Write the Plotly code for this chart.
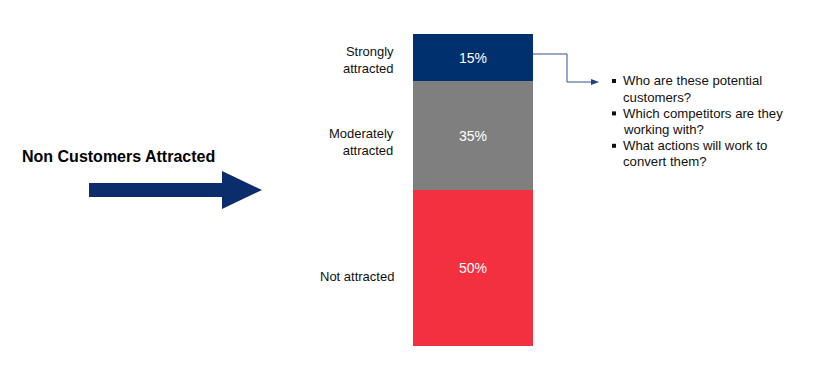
import plotly.graph_objects as go

categories = ["Not attracted", "Moderately attracted", "Strongly attracted"]
side_labels = ["Not attracted", "Moderately<br>attracted", "Strongly<br>attracted"]
values = [50, 35, 15]
colors = ["#F2303F", "#7F7F7F", "#00306E"]
label_shift = [-8, -7, -3]
bullets = [
    ["Who are these potential", "customers?"],
    ["Which competitors are they", "working with?"],
    ["What actions will work to", "convert them?"],
]
title_text = "Non Customers Attracted"

W, H = 815, 374
NAVY = "#0B2D6B"
FONT = "Liberation Sans, Arial, sans-serif"


def px(x):
    return x / W


def py(y):
    return 1 - y / H


fig = go.Figure()
for cat, v, c in zip(categories, values, colors):
    fig.add_trace(go.Bar(
        x=["bar"], y=[v], name=cat, marker=dict(color=c, line=dict(width=0)),
        text=[f"{v}%"], textposition="inside", insidetextanchor="middle",
        textfont=dict(color="white", size=14, family=FONT),
        hoverinfo="skip",
    ))

annotations = []
cum = 0
for lab, v, sh in zip(side_labels, values, label_shift):
    mid = cum + v / 2
    cum += v
    annotations.append(dict(
        x=px(396), xref="paper", y=mid, yref="y", text=lab, showarrow=False,
        xanchor="right", yanchor="middle", align="right", yshift=sh,
        font=dict(size=13, color="#111111", family=FONT),
    ))

annotations.append(dict(
    x=px(20), xref="paper", y=py(156), yref="paper", text=f"<b>{title_text}</b>",
    showarrow=False, xanchor="left", yanchor="middle",
    font=dict(size=16, color="#000000", family=FONT),
))

lines = []
for b in bullets:
    lines.extend(b)
line_y0, line_dy = 81, 16.2
for i, ln in enumerate(lines):
    annotations.append(dict(
        x=px(621), xref="paper", y=py(line_y0 + i * line_dy), yref="paper", text=ln,
        showarrow=False, xanchor="left", yanchor="middle", align="left",
        font=dict(size=13.2, color="#111111", family=FONT),
    ))

shapes = []
# big arrow
pts = [(89, 183), (222, 183), (222, 171), (262, 190), (222, 209), (222, 197), (89, 197)]
path = "M " + " L ".join(f"{px(x)},{py(y)}" for x, y in pts) + " Z"
shapes.append(dict(type="path", xref="paper", yref="paper", path=path,
                   fillcolor=NAVY, line=dict(width=0)))
# connector
cpts = [(533, 54), (567, 54), (567, 82), (592, 82)]
cpath = "M " + " L ".join(f"{px(x)},{py(y)}" for x, y in cpts)
shapes.append(dict(type="path", xref="paper", yref="paper", path=cpath,
                   line=dict(color="#2F4F8F", width=1)))
hpts = [(591, 79), (599, 82), (591, 85)]
hpath = "M " + " L ".join(f"{px(x)},{py(y)}" for x, y in hpts) + " Z"
shapes.append(dict(type="path", xref="paper", yref="paper", path=hpath,
                   fillcolor="#1F3F7F", line=dict(width=0)))
# bullet squares
for k in range(len(bullets)):
    yy = line_y0 + 2 * k * line_dy
    shapes.append(dict(type="rect", xref="paper", yref="paper",
                       x0=px(612), x1=px(616), y0=py(yy - 2), y1=py(yy + 2),
                       fillcolor="#111111", line=dict(width=0)))

fig.update_layout(
    width=W, height=H, margin=dict(l=0, r=0, t=0, b=0),
    paper_bgcolor="white", plot_bgcolor="white",
    barmode="stack", bargap=0, showlegend=False,
    xaxis=dict(domain=[px(413), px(533)], visible=False, fixedrange=True),
    yaxis=dict(domain=[py(346), py(34)], range=[0, 100], visible=False, fixedrange=True),
    annotations=annotations, shapes=shapes,
)

fig.write_html("out.html", config={"displayModeBar": False},
               post_script="document.body.style.margin='0';document.body.style.overflow='hidden';")
